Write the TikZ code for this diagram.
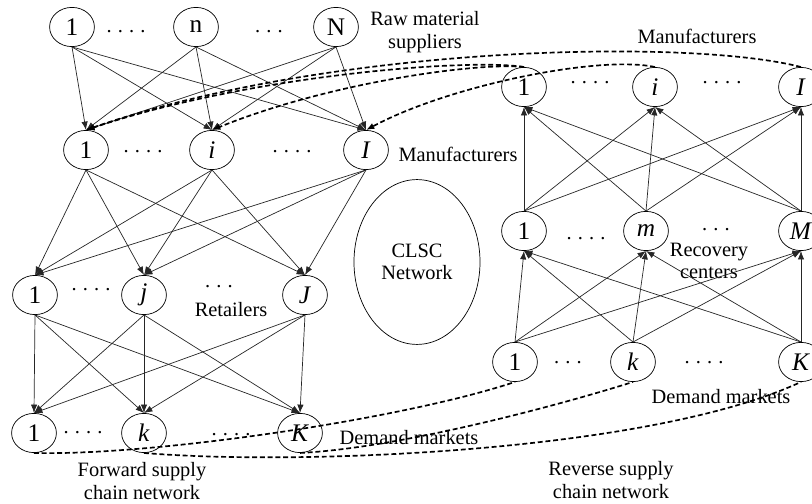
\documentclass[tikz,border=0pt]{standalone}
\usepackage{fontspec}
\setmainfont{Liberation Serif}
\usetikzlibrary{shapes.geometric,arrows.meta}
\newcommand{\fourdots}{.\hspace{0.3em}.\hspace{0.3em}.\hspace{0.3em}.}
\newcommand{\threedots}{.\hspace{0.3em}.\hspace{0.3em}.}

\begin{document}
\begin{tikzpicture}[x=0.025cm, y=-0.025cm,
  tier/.style={draw, ellipse, line width=0.5pt, inner sep=0pt, minimum width=1.12cm, minimum height=0.98cm, font=\fontsize{18}{20}\selectfont},
  gap/.style={inner sep=1pt, font=\fontsize{14.5}{16}\selectfont},
  caption/.style={align=center, inner sep=1pt, font=\fontsize{14.5}{16}\selectfont},
  flow/.style={-{Latex[length=6pt,width=4.5pt]}, line width=0.5pt, draw=black!85},
  link/.style={dash pattern=on 3.5pt off 2pt, line width=1.2pt}]
  \useasboundingbox (0,0) rectangle (812,504);

  % Raw material suppliers
  \node[tier] (sup1) at (72,27) {1};
  \node[tier] (supn) at (196,27) {n};
  \node[tier] (supN) at (336,27) {N};
  \node[gap] (supdots1) at (126,32) {\fourdots};
  \node[gap] (supdots2) at (269,32) {\threedots};
  \node[caption] (suplbl) at (425,32) {Raw material\\suppliers};

  % Manufacturers (forward)
  \node[tier] (man1) at (86,150) {1};
  \node[tier] (mani) at (212,150) {\textit{i}};
  \node[tier] (manI) at (366,150) {\textit{I}};
  \node[gap] (mandots1) at (143,152) {\fourdots};
  \node[gap] (mandots2) at (292,152) {\fourdots};
  \node[caption] (manlbl) at (458,154) {Manufacturers};

  % Retailers
  \node[tier] (ret1) at (35,295) {1};
  \node[tier] (retj) at (144,295) {\textit{j}};
  \node[tier] (retJ) at (305,295) {\textit{J}};
  \node[gap] (retdots1) at (91,290) {\fourdots};
  \node[gap] (retdots2) at (219,287) {\threedots};
  \node[caption] (retlbl) at (231,310) {Retailers};

  % Demand markets (forward)
  \node[tier] (dem1) at (34,433) {1};
  \node[tier] (demk) at (144,433) {\textit{k}};
  \node[tier] (demK) at (300,433) {\textit{K}};
  \node[gap] (demdots1) at (83,433) {\fourdots};
  \node[gap] (demdots2) at (231,435) {\fourdots};
  \node[caption] (demlbl) at (409,438) {Demand markets};

  % CLSC network
  \node[draw, ellipse, line width=0.5pt, minimum width=3.15cm, minimum height=4.12cm, caption] (clsc) at (417,262) {CLSC\\Network};

  % Manufacturers (reverse)
  \node[tier] (rman1) at (524,87) {1};
  \node[tier] (rmani) at (655,87) {\textit{i}};
  \node[tier] (rmanI) at (801,87) {\textit{I}};
  \node[gap] (rmandots1) at (590,83) {\fourdots};
  \node[gap] (rmandots2) at (722,83) {\fourdots};
  \node[caption] (rmanlbl) at (697,36) {Manufacturers};

  % Recovery centers
  \node[tier] (rec1) at (524,231) {1};
  \node[tier] (recm) at (646,231) {\textit{m}};
  \node[tier] (recM) at (801,231) {\textit{M}};
  \node[gap] (recdots1) at (586,239) {\fourdots};
  \node[gap] (recdots2) at (716,230) {\threedots};
  \node[caption] (reclbl) at (709,261) {Recovery\\centers};

  % Demand markets (reverse)
  \node[tier] (rdem1) at (515,362) {1};
  \node[tier] (rdemk) at (633,362) {\textit{k}};
  \node[tier] (rdemK) at (801,362) {\textit{K}};
  \node[gap] (rdemdots1) at (568,363) {\threedots};
  \node[gap] (rdemdots2) at (704,363) {\fourdots};
  \node[caption] (rdemlbl) at (721,397) {Demand markets};

  % Network captions
  \node[caption] (fwdlbl) at (142,481) {Forward supply\\chain network};
  \node[caption] (revlbl) at (611,480) {Reverse supply\\chain network};

  % Forward flows
  \foreach \a in {sup1,supn,supN}
    \foreach \b in {man1,mani,manI}
      \draw[flow] (\a.south) -- (\b.north);
  \foreach \a in {man1,mani,manI}
    \foreach \b in {ret1,retj,retJ}
      \draw[flow] (\a.south) -- (\b.north);
  \foreach \a in {ret1,retj,retJ}
    \foreach \b in {dem1,demk,demK}
      \draw[flow] (\a.south) -- (\b.north);

  % Reverse flows
  \foreach \a in {rdem1,rdemk,rdemK}
    \foreach \b in {rec1,recm,recM}
      \draw[flow] (\a.north) -- (\b.south);
  \foreach \a in {rec1,recm,recM}
    \foreach \b in {rman1,rmani,rmanI}
      \draw[flow] (\a.north) -- (\b.south);

  % Closing the loop between the two networks
  \draw[link, -{Latex[length=6pt,width=4.5pt]}] (rmanI.north) .. controls (690,38) and (330,45) .. (man1.north);
  \draw[link, -{Latex[length=6pt,width=4.5pt]}] (rman1.north) .. controls (470,58) and (250,75) .. (man1.north);
  \draw[link, -{Latex[length=6pt,width=4.5pt]}] (rman1.north) .. controls (480,62) and (330,82) .. (mani.north);
  \draw[link, -{Latex[length=6pt,width=4.5pt]}] (rmani.north) .. controls (600,55) and (450,85) .. (manI.north);
  \draw[link] (dem1.south) .. controls (150,456) and (400,420) .. (rdem1.south);
  \draw[link] (demK.south) .. controls (400,448) and (560,405) .. (rdemk.south);
  \draw[link] (demk.south) .. controls (300,466) and (650,452) .. (rdemK.south);
\end{tikzpicture}
\end{document}
